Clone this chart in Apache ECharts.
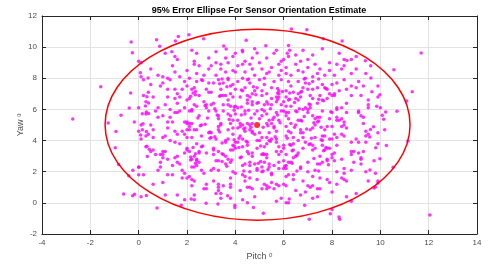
<!DOCTYPE html>
<html>
<head>
<meta charset="utf-8">
<script src="https://cdn.jsdelivr.net/npm/echarts@6/dist/echarts.min.js"></script>
<style>html,body{margin:0;padding:0;background:#fff;}#c{width:489px;height:264px;}</style>
</head>
<body>
<div id="c"></div>
<script>
const titleText = '95% Error Ellipse For Sensor Orientation Estimate';
const xName = 'Pitch ᵒ';
const yName = 'Yaw ᵒ';
const xTicks = { min: -4, max: 14, interval: 2 };
const yTicks = { min: -2, max: 12, interval: 2 };
// ellipse: [centerPitch, centerYaw, semiAxisPitch, semiAxisYaw]
const ellipseParams = [4.92, 5.02, 6.31, 6.13];
const meanPoint = [4.9, 5.0];

// sparse points read individually at the edges
const edgeSamples = [
[-0.31,10.33],[-0.26,9.64],[0.10,9.0],[0.07,8.36],[0.39,8.02],[-1.57,7.46],[-0.33,7.05],[0.34,6.82],[0.41,6.41],[-0.39,6.09],[0.28,6.22],[-0.73,5.62],[0.15,5.73],[0.32,5.83],[0.41,5.74],[-2.73,5.38],[-1.26,5.13],[-0.18,5.19],[0.18,5.08],
[-0.94,4.59],[0.15,4.70],[0.32,4.59],[0.08,4.36],[0.10,4.10],[-0.97,3.54],[0.34,3.64],[0.44,3.44],[0.36,2.97],[-0.83,2.47],[0.01,2.28],[-0.24,2.09],[-0.41,1.74],[-0.62,0.57],[-0.25,0.46],[-0.17,0.55],[0.32,0.48],
[11.69,9.62],[10.56,8.55],[9.61,8.02],[9.65,7.14],[9.98,6.95],[11.32,7.14],[11.09,6.54],[9.85,6.20],[10.0,6.10],[10.22,5.84],[10.69,5.88],[10.08,5.62],[10.14,5.37],[9.72,4.89],[9.59,4.71],[10.18,4.70],[9.56,4.23],[9.81,3.54],[10.25,3.69],[11.14,3.97],[9.98,2.84],[9.74,2.71],[9.57,2.11],[10.53,2.28],[9.90,1.27],[9.80,1.02],[9.74,0.95],[12.05,-0.78],[9.38,9.13],
[0.74,10.48],[0.87,10.05],[1.52,10.39],[1.64,10.69],[1.37,9.71],[2.08,10.80],[2.69,10.54],[3.52,10.07],[4.45,10.44],[3.62,9.88],[4.29,9.80],[4.90,9.62],[5.26,10.09],[6.32,11.17],[6.96,11.12],[7.64,10.54],[8.42,10.39],[6.2,10.1],[6.25,9.8],[6.15,9.6],[8.62,9.15],
[0.76,-0.33],[1.76,-0.15],[2.17,0.25],[2.79,-0.03],[3.28,-0.08],[3.68,0.46],[3.98,-0.30],[3.98,-0.15],[4.75,-0.30],[5.16,-0.67],[6.23,0.25],[6.87,-0.16],[7.06,-1.06],[8.29,-0.91],[8.0,-0.43],[7.93,-0.70],[8.32,-1.06]
];

// dense interior, estimated band by band (yaw 0..10)
const band0 = [[0.1,0.4],[1.1,0.5],[1.9,0.2],[1.6,0.5],[2.3,0.5],[2.8,0.9],[2.7,0.9],[2.3,0.2],[3.3,0.8],[3.4,0.6],[3.2,0.6],[3.4,0.3],[3.8,0.3],[4.3,0.2],[4.7,0.9],[4.5,0.0],[4.2,0.8],[4.8,0.4],[5.1,0.9],[5.7,0.1],[5.6,0.9],[5.3,0.9],[5.9,0.3],[6.7,0.5],[6.1,0.0],[6.5,0.8],[6.2,0.0],[6.9,0.7],[7.4,0.9],[7.4,0.4],[7.5,0.9],[7.2,0.3],[8.0,0.7],[8.8,0.1],[8.6,0.4],[9.0,0.6]];
const band1 = [[0.2,1.8],[0.6,1.2],[0.0,1.8],[1.9,1.9],[1.8,1.6],[1.2,1.8],[1.0,1.3],[1.4,1.8],[2.2,1.5],[2.3,1.4],[2.2,1.1],[2.1,1.7],[2.0,1.6],[2.7,1.9],[2.8,1.2],[3.1,1.4],[3.8,1.0],[3.8,1.6],[3.5,1.1],[3.3,1.2],[3.8,1.2],[3.3,1.0],[4.6,1.6],[4.4,1.7],[4.0,1.9],[4.3,1.8],[4.4,1.4],[4.6,1.0],[4.9,1.5],[4.5,1.0],[5.5,1.8],[5.2,1.2],[5.3,1.1],[5.7,1.2],[5.5,1.3],[5.5,1.9],[5.4,1.0],[5.8,1.1],[6.2,1.8],[6.4,1.8],[6.1,1.1],[6.1,1.7],[6.4,1.5],[6.0,1.2],[6.8,1.4],[7.1,1.0],[7.2,1.7],[7.0,1.1],[7.9,1.3],[7.8,1.5],[7.2,1.1],[7.5,1.6],[8.5,1.5],[8.5,1.9],[8.6,1.4],[8.4,1.6],[8.2,1.2],[9.9,1.4],[9.8,1.9],[9.5,1.4]];
const band2 = [[0.9,2.3],[0.0,2.3],[0.8,2.1],[0.9,2.6],[1.4,2.4],[1.2,2.8],[1.8,2.1],[1.0,2.9],[1.7,2.5],[1.6,2.6],[1.5,2.9],[2.3,2.3],[2.4,2.4],[2.6,2.1],[2.2,2.8],[2.4,2.7],[2.5,2.6],[2.4,2.8],[2.2,2.3],[3.3,2.7],[3.8,2.6],[3.7,2.8],[3.3,2.1],[3.6,2.5],[3.2,2.7],[3.1,2.2],[3.0,2.1],[3.9,2.0],[4.9,2.1],[4.4,2.5],[4.6,2.4],[4.8,2.5],[4.6,2.6],[4.9,2.2],[4.3,2.4],[4.6,2.0],[4.2,2.9],[5.8,2.6],[5.1,2.0],[5.4,2.5],[5.4,2.3],[5.2,2.6],[5.6,2.4],[5.8,2.2],[5.1,2.3],[5.3,2.9],[6.3,2.6],[6.0,2.7],[6.2,2.6],[6.0,2.2],[6.4,2.9],[6.1,2.4],[6.1,2.2],[6.7,2.3],[6.7,2.2],[7.4,2.5],[7.8,2.7],[7.0,2.0],[7.6,2.6],[7.0,2.6],[7.3,2.1],[7.5,2.5],[7.8,2.8],[8.1,2.7],[8.4,2.8],[8.8,2.1],[8.5,2.2],[8.0,2.9],[8.2,2.0],[8.9,2.6],[9.2,2.8],[9.2,2.9],[9.2,2.5],[9.4,2.0]];
const band3 = [[0.9,3.1],[0.7,3.1],[0.5,3.3],[0.6,3.4],[0.3,3.6],[1.7,3.8],[1.9,3.2],[1.5,3.9],[1.0,3.3],[1.6,3.0],[1.0,3.1],[1.1,3.3],[2.3,3.0],[2.5,3.3],[2.0,3.5],[2.4,3.8],[2.8,3.2],[2.0,3.4],[2.6,3.6],[2.5,3.2],[2.1,3.3],[3.8,3.4],[3.1,3.4],[3.6,3.9],[3.5,3.1],[3.9,3.4],[3.1,3.5],[3.1,3.1],[3.6,3.0],[3.9,3.7],[3.3,3.3],[4.0,3.5],[4.7,3.2],[4.7,3.0],[4.3,3.6],[4.5,3.7],[4.5,3.9],[4.9,3.5],[4.1,3.9],[4.5,3.3],[4.0,3.9],[5.2,3.1],[5.8,3.6],[5.1,3.1],[5.7,3.3],[5.8,3.1],[5.9,3.3],[5.2,3.6],[5.3,3.8],[5.7,3.9],[5.3,3.1],[6.0,3.5],[6.1,3.1],[6.8,3.5],[6.4,3.8],[6.0,3.7],[6.4,3.4],[6.6,3.2],[6.3,3.7],[6.9,3.9],[6.5,3.0],[7.7,3.4],[7.9,3.5],[7.6,3.7],[7.3,3.5],[7.1,3.8],[7.8,3.5],[7.5,3.0],[7.2,3.7],[7.2,3.4],[8.8,3.9],[8.1,3.2],[8.2,3.7],[8.9,3.3],[8.8,3.1],[8.8,3.3],[8.0,3.1],[9.1,3.9],[9.4,3.9],[9.1,3.2],[9.9,3.8],[9.3,3.3]];
const band4 = [[0.6,4.7],[0.3,4.3],[0.6,4.2],[0.4,4.4],[0.0,4.6],[1.5,4.6],[1.6,4.4],[1.3,4.0],[1.8,4.6],[1.0,4.2],[1.1,4.3],[1.9,4.4],[1.2,4.8],[2.6,4.3],[2.9,4.5],[2.2,4.2],[2.4,4.7],[2.3,4.7],[2.1,4.9],[2.0,4.7],[2.0,4.2],[2.1,4.7],[3.9,4.8],[3.6,4.0],[3.9,4.4],[3.3,4.7],[3.0,4.2],[3.7,4.7],[3.0,4.5],[3.3,4.9],[3.2,4.1],[3.7,4.1],[4.7,4.6],[4.2,4.9],[4.3,4.1],[4.9,4.0],[4.7,4.5],[4.2,4.3],[4.8,4.4],[4.6,4.7],[4.4,4.8],[4.1,4.8],[4.4,4.6],[5.7,4.6],[5.6,4.9],[5.4,4.0],[5.5,4.1],[5.3,4.2],[5.0,4.0],[5.0,4.5],[5.6,4.8],[5.1,4.2],[5.7,4.1],[5.4,4.5],[6.2,4.6],[6.3,4.5],[6.6,4.0],[6.8,4.2],[6.7,4.7],[6.8,4.5],[6.1,4.9],[6.1,4.3],[6.4,4.2],[6.7,4.5],[7.7,4.7],[7.8,4.9],[7.6,4.0],[7.9,4.1],[7.7,4.3],[7.6,4.3],[7.1,4.7],[7.2,4.8],[7.3,4.2],[8.1,4.4],[8.6,4.8],[8.4,4.4],[8.0,4.9],[8.0,4.1],[8.2,4.2],[8.4,4.9],[8.5,4.3],[9.4,4.3],[9.0,4.1],[9.4,4.6],[9.5,4.4],[9.9,4.5]];
const band5 = [[0.8,5.5],[0.3,5.7],[0.1,5.0],[0.5,5.0],[0.7,5.9],[1.2,5.2],[1.7,5.9],[1.6,5.8],[1.9,5.2],[1.5,5.8],[1.3,5.5],[1.0,5.6],[1.4,5.2],[2.0,5.1],[2.9,5.9],[2.5,5.6],[2.1,5.1],[2.2,5.1],[2.2,5.9],[2.0,5.2],[2.1,5.9],[2.6,5.0],[3.8,5.6],[3.4,5.0],[3.3,5.4],[3.4,5.1],[3.8,5.1],[3.5,5.9],[3.9,5.3],[3.3,5.6],[3.2,5.9],[3.7,5.7],[4.4,5.7],[4.7,5.1],[4.3,5.0],[4.9,5.9],[4.6,5.0],[4.5,5.1],[4.8,5.7],[4.0,5.7],[4.2,5.1],[4.1,5.3],[4.4,5.9],[5.9,5.9],[5.0,5.4],[5.8,5.3],[5.3,5.7],[5.2,5.9],[5.7,5.8],[5.1,5.6],[5.5,5.1],[5.4,5.3],[5.6,5.5],[5.3,5.1],[6.3,5.1],[6.7,5.3],[6.2,5.8],[6.1,5.6],[6.0,5.9],[6.6,5.3],[6.1,5.8],[6.5,5.9],[6.5,5.0],[6.2,5.4],[7.4,5.5],[7.9,5.4],[7.5,5.5],[7.3,5.4],[7.6,5.9],[7.0,5.8],[7.3,5.0],[7.2,5.6],[7.4,5.2],[8.5,5.2],[8.2,5.3],[8.0,5.8],[8.2,5.5],[8.3,5.3],[8.4,5.4],[8.6,5.8],[8.5,5.0],[9.3,5.5],[9.2,5.6],[9.1,5.9],[9.3,5.1],[9.1,5.8]];
const band6 = [[0.8,6.1],[0.6,6.8],[0.0,6.1],[0.3,6.5],[0.2,6.9],[1.1,6.3],[1.7,6.8],[1.3,6.0],[1.6,6.4],[1.2,6.8],[1.9,6.1],[1.5,6.7],[2.7,6.5],[2.3,6.3],[2.2,6.0],[2.8,6.3],[2.8,6.1],[2.4,6.2],[2.0,6.6],[2.1,6.7],[2.5,6.9],[3.7,6.6],[3.6,6.9],[3.1,6.4],[3.7,6.3],[3.0,6.3],[3.5,6.9],[3.8,6.2],[3.5,6.3],[3.4,6.9],[3.9,6.8],[4.2,6.8],[4.7,6.5],[4.5,6.4],[4.6,6.8],[4.7,6.3],[4.1,6.1],[4.5,6.9],[4.5,6.6],[4.0,6.2],[4.9,6.4],[5.8,6.8],[5.2,6.3],[5.5,6.3],[5.7,6.8],[5.7,6.5],[5.9,6.3],[5.1,6.0],[5.1,6.9],[5.5,6.7],[5.3,6.5],[6.1,6.8],[6.5,6.7],[6.7,6.8],[6.0,6.5],[6.3,6.2],[6.9,6.1],[6.1,6.2],[6.2,6.6],[6.8,6.0],[6.6,6.6],[7.1,6.3],[7.0,6.0],[7.1,6.9],[7.2,6.7],[7.8,6.7],[7.6,6.6],[7.1,6.1],[7.4,6.4],[7.5,6.9],[8.0,6.9],[8.2,6.1],[8.6,6.4],[8.2,6.0],[8.1,6.9],[8.8,6.9],[8.4,6.1],[9.5,6.1],[9.2,6.9],[9.5,6.6],[9.5,6.3],[9.9,6.8]];
const band7 = [[0.4,7.1],[0.9,7.5],[0.2,7.9],[0.5,7.6],[1.5,7.3],[1.9,7.8],[1.0,7.7],[1.2,7.3],[1.8,7.3],[1.3,7.9],[1.6,7.0],[2.3,7.4],[2.8,7.3],[2.2,7.3],[2.9,7.7],[2.0,7.5],[2.6,7.9],[2.4,7.8],[2.9,7.1],[3.1,7.7],[3.9,7.6],[3.8,7.0],[3.3,7.9],[3.5,7.7],[3.0,7.1],[3.8,7.5],[3.4,7.3],[3.7,7.9],[4.9,7.4],[4.4,7.4],[4.7,7.0],[4.3,7.2],[4.6,7.7],[4.1,7.8],[4.5,7.9],[4.0,7.3],[4.8,7.2],[5.2,7.6],[5.8,7.0],[5.9,7.9],[5.6,7.8],[5.8,7.2],[5.3,7.0],[5.5,7.4],[5.1,7.2],[5.0,7.9],[6.1,7.2],[6.7,7.1],[6.6,7.0],[6.9,7.7],[6.2,7.8],[6.4,7.1],[6.3,7.5],[6.6,7.8],[6.8,7.4],[7.2,7.3],[7.2,7.8],[7.0,7.3],[7.6,7.6],[7.7,7.4],[7.9,7.0],[7.8,7.3],[7.4,7.4],[8.0,7.6],[8.5,7.9],[8.3,7.2],[8.8,7.5],[8.1,7.0],[8.6,7.3],[8.2,7.7],[9.3,7.5],[9.9,7.5],[9.0,7.4],[9.1,7.8]];
const band8 = [[0.8,8.2],[0.5,8.6],[0.1,8.1],[1.7,8.1],[1.5,8.4],[1.2,8.0],[1.4,8.8],[1.0,8.1],[2.7,8.2],[2.1,8.0],[2.3,8.9],[2.5,8.8],[2.0,8.5],[2.9,8.6],[2.4,8.3],[3.9,8.5],[3.4,8.6],[3.6,8.4],[3.2,8.2],[3.4,8.9],[3.0,8.8],[3.7,8.0],[4.3,8.9],[4.3,8.0],[4.1,8.8],[4.6,8.9],[4.4,8.4],[4.8,8.2],[4.0,8.4],[4.7,8.6],[5.5,8.7],[5.8,8.9],[5.9,8.5],[5.3,8.3],[5.4,8.4],[5.1,8.6],[5.8,8.2],[5.2,8.0],[6.6,8.5],[6.8,8.4],[6.3,8.2],[6.5,8.9],[6.1,8.7],[6.9,8.0],[6.1,8.3],[7.5,8.6],[7.7,8.2],[7.2,8.1],[7.0,8.7],[7.3,8.9],[7.9,8.5],[7.4,8.3],[8.4,8.6],[8.5,8.8],[8.1,8.2],[8.2,8.9],[8.8,8.3],[9.0,8.6],[9.4,8.3],[9.6,8.8]];
const band9 = [[0.0,9.1],[1.5,9.4],[1.1,9.6],[1.6,9.2],[2.4,9.6],[2.2,9.8],[2.3,9.1],[2.9,9.3],[3.6,9.3],[3.7,9.0],[3.2,9.7],[3.2,9.0],[3.9,9.4],[4.4,9.1],[4.0,9.6],[4.3,9.7],[4.7,9.3],[4.8,9.9],[5.7,9.8],[5.0,9.0],[5.6,9.6],[5.3,9.3],[5.9,9.1],[6.5,9.5],[6.8,9.8],[6.7,9.1],[6.2,9.4],[6.0,9.2],[7.2,9.5],[7.9,9.0],[7.0,9.2],[7.6,9.9],[8.8,9.2],[8.3,9.6],[8.5,9.2],[9.0,9.4]];
// extra points in the dense core (pitch 2..8, yaw 2..8)
const core = [[2.15,2.95],[2.15,2.75],[2.35,2.55],[3.45,2.65],[3.65,2.35],[3.85,2.75],[4.25,2.95],[4.95,2.55],[4.35,2.05],[5.05,2.65],[5.15,2.05],[5.35,2.15],[6.05,2.35],[6.35,2.55],[6.55,2.05],[7.85,2.45],[7.25,2.85],[7.45,2.05],
[2.65,3.65],[2.25,3.55],[2.35,3.15],[3.45,3.85],[3.45,3.15],[3.95,3.65],[4.15,3.55],[4.45,3.95],[4.55,3.15],[5.15,3.15],[5.05,3.65],[5.45,3.95],[6.35,3.35],[6.55,3.05],[6.25,3.75],[7.05,3.75],[7.65,3.35],[7.75,3.55],
[2.95,4.55],[2.55,4.95],[2.95,4.15],[3.35,4.55],[3.95,4.05],[3.15,4.25],[4.65,4.85],[4.15,4.15],[4.35,4.75],[5.15,4.85],[5.35,4.95],[5.65,4.25],[6.15,4.15],[6.95,4.75],[6.45,4.85],[7.55,4.05],[7.15,4.15],[7.55,4.85],
[2.85,5.45],[2.75,5.05],[2.45,5.45],[3.25,5.65],[3.75,5.35],[3.95,5.95],[4.25,5.65],[4.65,5.45],[4.55,5.95],[5.75,5.65],[5.55,5.35],[5.85,5.15],[6.55,5.85],[6.85,5.55],[6.75,5.25],[7.45,5.25],[7.95,5.85],[7.25,5.15],
[2.75,6.25],[2.35,6.95],[2.15,6.85],[3.35,6.85],[3.15,6.05],[3.95,6.15],[4.95,6.45],[4.25,6.15],[4.85,6.95],[5.35,6.35],[5.75,6.65],[5.45,6.05],[6.25,6.65],[6.45,6.45],[6.65,6.05],[7.65,6.55],[7.45,6.65],[7.05,6.35],
[2.65,7.85],[2.25,7.05],[2.35,7.15],[3.45,7.95],[3.65,7.45],[3.35,7.65],[4.55,7.95],[4.25,7.25],[4.75,7.45],[5.75,7.35],[5.95,7.15],[5.75,7.05],[6.25,7.05],[6.75,7.15],[6.85,7.95],[7.05,7.65],[7.45,7.95],[7.75,7.35]];

const samples = [].concat(edgeSamples, band0, band1, band2, band3, band4, band5, band6, band7, band8, band9, core);

const axisColor = '#262626';
const labelColor = '#4d4d4d';
const gridColor = '#e3e3e3';
const font = 'Liberation Sans, Arial, Helvetica, sans-serif';

const chart = echarts.init(document.getElementById('c'), null, { renderer: 'canvas' });

function baseAxis(r, extra) {
  return Object.assign({
    type: 'value', min: r.min, max: r.max, interval: r.interval,
    axisLine: { show: true, onZero: false, lineStyle: { color: axisColor, width: 1 } },
    axisTick: { show: true, inside: true, length: 4, lineStyle: { color: axisColor } },
    axisLabel: { show: true, color: labelColor, fontSize: 8, fontFamily: font, margin: 5 },
    splitLine: { show: true, lineStyle: { color: gridColor, width: 1 } },
    nameMoveOverlap: false
  }, extra);
}

chart.setOption({
  animation: false,
  backgroundColor: '#fff',
  title: {
    text: titleText, left: 259, textAlign: 'center', top: 5, padding: 0,
    textStyle: { fontSize: 9, fontWeight: 'bold', color: '#000', fontFamily: font, lineHeight: 11 }
  },
  grid: { left: 42, right: 12, top: 16, bottom: 30, containLabel: false, outerBoundsMode: 'none' },
  xAxis: [
    baseAxis(xTicks, { position: 'bottom', name: xName, nameLocation: 'middle', nameGap: 18,
      nameTextStyle: { color: labelColor, fontSize: 9, fontFamily: font } }),
    baseAxis(xTicks, { position: 'top', axisLabel: { show: false }, splitLine: { show: false } })
  ],
  yAxis: [
    baseAxis(yTicks, { position: 'left', name: yName, nameLocation: 'middle', nameGap: 17,
      nameTextStyle: { color: labelColor, fontSize: 9, fontFamily: font } }),
    baseAxis(yTicks, { position: 'right', axisLabel: { show: false }, splitLine: { show: false } })
  ],
  series: [
    {
      type: 'scatter', data: samples, symbol: 'circle', symbolSize: 3.5,
      itemStyle: { color: '#ff00ff' }, z: 2, silent: true
    },
    {
      type: 'custom', data: [ellipseParams], z: 3, silent: true, clip: false,
      encode: { x: 0, y: 1 },
      renderItem: function (params, api) {
        const c = api.coord([api.value(0), api.value(1)]);
        const s = api.size([api.value(2), api.value(3)]);
        return {
          type: 'ellipse',
          shape: { cx: c[0], cy: c[1], rx: s[0], ry: s[1] },
          style: { fill: null, stroke: '#ff0000', lineWidth: 1.5 }
        };
      }
    },
    {
      type: 'scatter', data: [meanPoint], symbol: 'circle', symbolSize: 6,
      itemStyle: { color: '#ff0000' }, z: 4, silent: true
    }
  ]
});
</script>
</body>
</html>
